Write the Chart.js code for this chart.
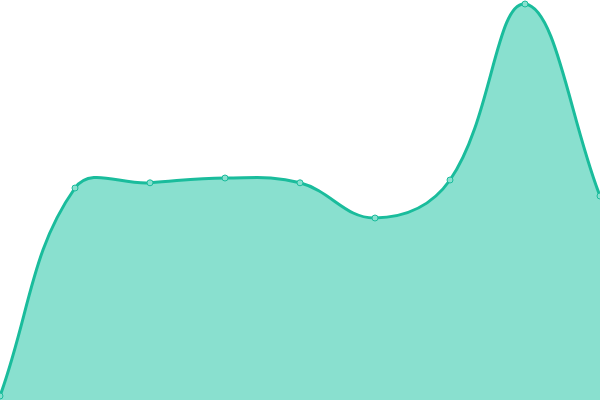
<!DOCTYPE html>
<html>
<head>
<meta charset="utf-8">
<script src="https://cdn.jsdelivr.net/npm/chart.js@4"></script>
<style>
  html, body { margin: 0; padding: 0; background: #fff; }
</style>
</head>
<body>
<canvas id="areaChart" width="600" height="400"></canvas>
<script>
// categories and values
const labels = ["1", "2", "3", "4", "5", "6", "7", "8", "9"];
const values = [1, 53, 54.3, 55.5, 54.3, 45.5, 55, 99, 51];
const yMin = 0;
const yMax = 100;

const ctx = document.getElementById("areaChart");
new Chart(ctx, {
  type: "line",
  data: {
    labels,
    datasets: [{
      data: values,
      borderColor: "#1abc9c",
      backgroundColor: "#89e0cf",
      borderWidth: 3,
      fill: true,
      tension: 0.4,
      pointRadius: 3,
      pointBorderWidth: 1,
      pointBackgroundColor: "#89e0cf",
      pointBorderColor: "#1abc9c"
    }]
  },
  options: {
    responsive: false,
    animation: false,
    layout: { padding: 0, autoPadding: false },
    plugins: { legend: { display: false }, tooltip: { enabled: false } },
    scales: {
      x: { display: false, offset: false },
      y: { display: false, min: yMin, max: yMax }
    }
  }
});
</script>
</body>
</html>
